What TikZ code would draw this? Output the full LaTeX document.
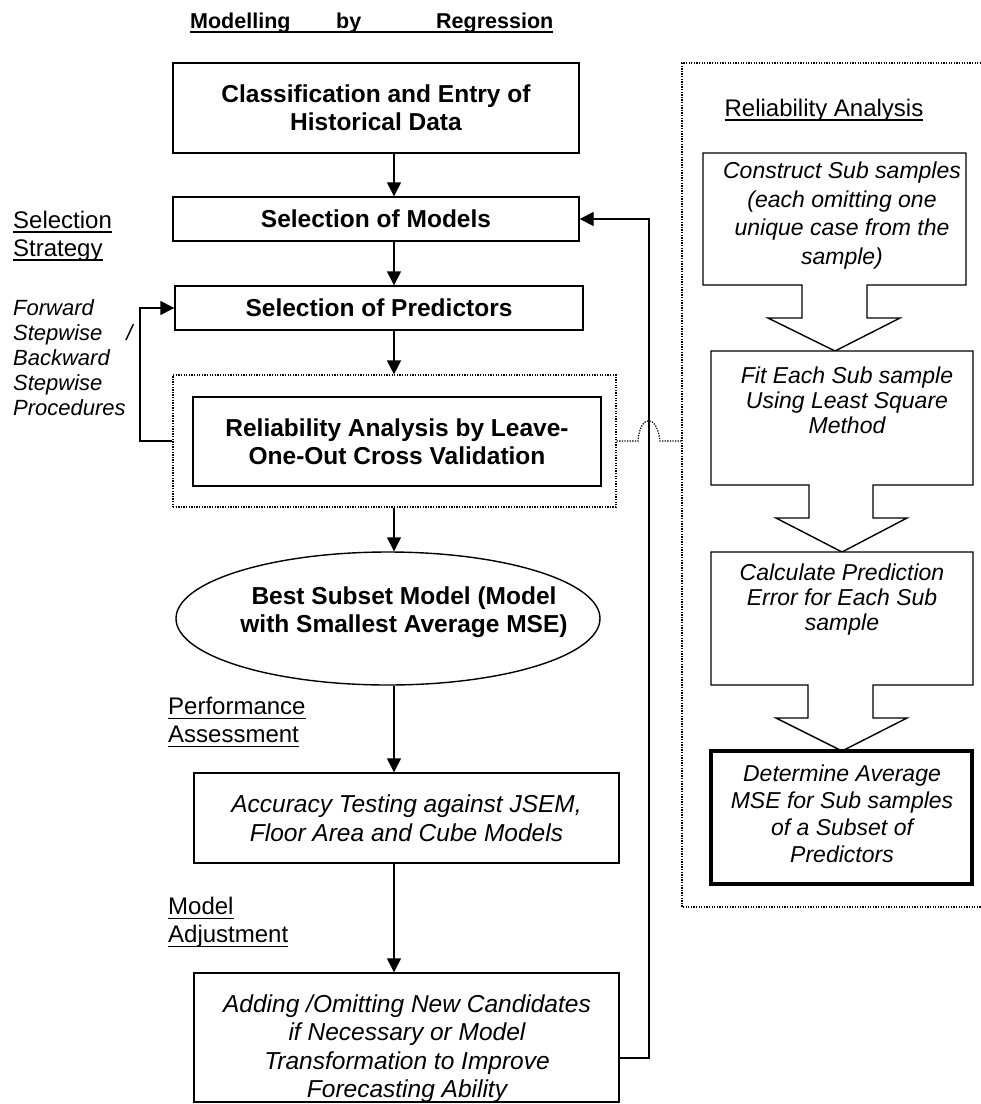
\documentclass[tikz,border=0pt]{standalone}
\usepackage{fontspec}
\setmainfont{Liberation Sans}
\usetikzlibrary{arrows.meta,shapes.geometric}
\newsavebox{\myulbox}
\newcommand{\myul}[1]{\sbox{\myulbox}{#1}\rlap{\rule[-4.5pt]{\wd\myulbox}{1.7pt}}\usebox{\myulbox}}
\begin{document}
\begin{tikzpicture}[x=1pt,y=-1pt,
 box/.style={draw,line width=1.4pt,inner sep=0pt,align=center,fill=white},
 bf/.style={font=\fontsize{24.5}{28}\selectfont\bfseries,align=center},
 it/.style={font=\fontsize{24.5}{28.5}\selectfont\itshape,align=center},
 rit/.style={font=\fontsize{23}{28.5}\selectfont\itshape,align=center,inner sep=0pt},
 arr/.style={line width=1.4pt,-{Triangle[width=14pt,length=14pt]}},
 dotline/.style={line width=1.2pt,dash pattern=on 1.3pt off 1.3pt},
 lab/.style={font=\fontsize{24}{28}\selectfont,align=left,inner sep=0pt},
 callout/.style={line width=1.4pt,fill=white,line join=miter},
]
\useasboundingbox (0,0) rectangle (981,1104);

% title
\node[anchor=base west,inner sep=0pt,font=\fontsize{21.5}{26}\selectfont\bfseries] (title) at (190,28)
  {\myul{\makebox[146pt][l]{Modelling}\makebox[100pt][l]{by}Regression}};

% main column
\node[box,bf,minimum width=406,minimum height=90] (b1) at (376,108) {Classification and Entry of\\Historical Data};
\node[box,bf,minimum width=406,minimum height=44] (b2) at (376,219) {Selection of Models};
\node[box,bf,minimum width=408,minimum height=44] (b3) at (379,308) {Selection of Predictors};
\node[draw,dotline,minimum width=443,minimum height=132,inner sep=0pt] (ra) at (394.5,441) {};
\node[box,bf,minimum width=408,minimum height=89] (rl) at (397,441.5) {Reliability Analysis by Leave-\\One-Out Cross Validation};
\node[draw,ellipse,line width=1.4pt,minimum width=424,minimum height=133,inner sep=0pt] (el) at (388,618.5) {};
\node[bf,inner sep=0pt] (elt) at (404,612.5) {Best Subset Model (Model\\with Smallest Average MSE)};
\node[box,it,minimum width=425,minimum height=90] (b4) at (406.5,818) {Accuracy Testing against JSEM,\\Floor Area and Cube Models};
\node[box,minimum width=425,minimum height=129] (b5) at (406.5,1037.5) {};
\node[it,inner sep=0pt] (b5t) at (407,1048.5) {Adding /Omitting New Candidates\\if Necessary or Model\\Transformation to Improve\\Forecasting Ability};

% connectors
\coordinate (cx) at (394,0);
\draw[arr] (b1.south -| cx) -- (b2.north -| cx);
\draw[arr] (b2.south -| cx) -- (b3.north -| cx);
\draw[arr] (b3.south -| cx) -- (ra.north -| cx);
\draw[arr] (ra.south -| cx) -- (el.north -| cx);
\draw[arr] (el.south -| cx) -- (b4.north -| cx);
\draw[arr] (b4.south -| cx) -- (b5.north -| cx);
\coordinate (fb) at (649,1058);
\draw[arr] (b5.east |- fb) -- (fb) |- (b2.east);
\coordinate (lp) at (140,441);
\draw[arr] (ra.west |- lp) -- (lp) |- (b3.west);

% left labels
\node[lab,anchor=west] (ss) at (13,236) {\myul{Selection}\\\myul{Strategy}};
\node[lab,anchor=west,font=\fontsize{22}{25}\selectfont\itshape] (fw) at (13,358)
  {Forward\\Stepwise\hspace{24pt}/\\Backward\\Stepwise\\Procedures};
\node[lab,anchor=west] (pa) at (168,722.5) {\myul{Performance}\\\myul{Assessment}};
\node[lab,anchor=west] (ma) at (168,922.5) {\myul{Model}\\\myul{Adjustment}};

% right panel
\draw[dotline] (981,63) -| (682,907) -- (981,907);
\coordinate (hopend) at (682,441);
\draw[dotline] (ra.east |- hopend) -- (638,441) .. controls (640,414) and (657,414) .. (660,441) -- (hopend);
\node[lab] (rat) at (824,110) {\myul{Reliability Analysis}};

\draw[callout] (703,153) -- (966,153) -- (966,285) -- (867,285) -- (867,318) -- (900,318) -- (835,351)
  -- (768,318) -- (802,318) -- (802,285) -- (703,285) -- cycle;
\draw[callout] (711,351) -- (973,351) -- (973,485) -- (873,485) -- (873,518) -- (907,518) -- (842,552)
  -- (776,518) -- (809,518) -- (809,485) -- (711,485) -- cycle;
\draw[callout] (711,552) -- (973,552) -- (973,685) -- (873,685) -- (873,718) -- (907,718) -- (842,751)
  -- (776,718) -- (808,718) -- (808,685) -- (711,685) -- cycle;
\node[draw,line width=3.5pt,minimum width=261,minimum height=133,inner sep=0pt] (bd) at (841.5,817.5) {};

\node[rit] (ca) at (842,215.5) {Construct Sub samples\\(each omitting one\\unique case from the\\sample)};
\node[rit,font=\fontsize{23}{25}\selectfont\itshape] (cb) at (847,400) {Fit Each Sub sample\\Using Least Square\\Method};
\node[rit,font=\fontsize{23}{25}\selectfont\itshape] (cc) at (842,600) {Calculate Prediction\\Error for Each Sub\\sample};
\node[rit,font=\fontsize{23}{27}\selectfont\itshape] (cd) at (842,813.5) {Determine Average\\MSE for Sub samples\\of a Subset of\\Predictors};
\end{tikzpicture}
\end{document}
